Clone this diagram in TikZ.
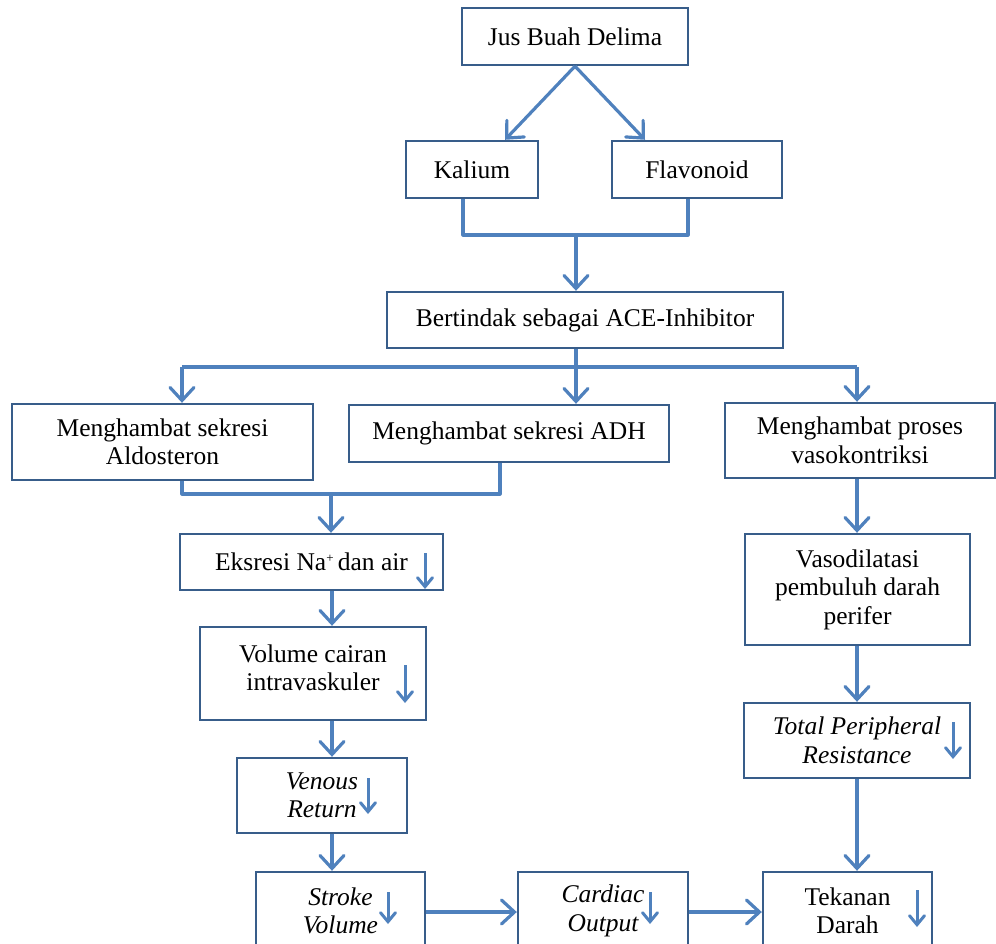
\documentclass[tikz,border=0pt]{standalone}
\usepackage{fontspec}
\setmainfont{Liberation Serif}
\usetikzlibrary{arrows.meta,calc}
\definecolor{boxcol}{RGB}{56,93,138}
\definecolor{arrcol}{RGB}{79,129,189}
\tikzset{
  flowbox/.style={draw=boxcol, line width=2.4pt, inner sep=0pt, align=center,
    font=\fontsize{25.5}{28.5}\selectfont},
  conn/.style={draw=arrcol, line width=3.2pt, line join=round},
  arr/.style={conn, -{Straight Barb[length=13pt,width=24pt,line cap=round]}},
  downtick/.style={draw=arrcol, line width=3pt, -{Straight Barb[length=9pt,width=15pt,line cap=round]}}
}
\begin{document}
\begin{tikzpicture}[x=1pt,y=-1pt]
\useasboundingbox (0,0) rectangle (996,944);
\clip (0,0) rectangle (996,944);
\fill[white] (0,0) rectangle (996,944);

% boxes
\node[flowbox, minimum width=226pt, minimum height=57pt] (jus) at (575,36.5) {Jus Buah Delima};
\node[flowbox, minimum width=132pt, minimum height=57pt] (kal) at (472,169.5) {Kalium};
\node[flowbox, minimum width=170pt, minimum height=57pt] (flav) at (697,169.5) {Flavonoid};
\node[flowbox, minimum width=396pt, minimum height=56pt] (bert) at (585,320) {Bertindak sebagai ACE-Inhibitor};
\node[flowbox, minimum width=301pt, minimum height=76pt] (aldo) at (162.5,442) {Menghambat sekresi\\Aldosteron};
\node[flowbox, minimum width=320pt, minimum height=57pt] (adh) at (509,433.5) {Menghambat sekresi ADH};
\node[flowbox, minimum width=270pt, minimum height=75pt] (vaso) at (860,440.5) {Menghambat proses\\vasokontriksi};
\node[flowbox, minimum width=263pt, minimum height=56pt] (eks) at (311.5,562) {Eksresi Na\raisebox{8pt}{\fontsize{13}{13}\selectfont+}\,dan air};
\node[flowbox, minimum width=226pt, minimum height=93pt] (vol) at (313,673.5) {Volume cairan\\intravaskuler\\[-17pt]};
\node[flowbox, minimum width=170pt, minimum height=75pt] (ven) at (322,795.5) {\itshape Venous\\\itshape Return};
\node[flowbox, minimum width=169pt, minimum height=78pt] (sv) at (340.5,911) {\itshape Stroke\\\itshape Volume};
\node[flowbox, minimum width=170pt, minimum height=78pt] (co) at (603,911) {\itshape Cardiac\\\itshape Output};
\node[flowbox, minimum width=169pt, minimum height=78pt] (td) at (847.5,911) {Tekanan\\Darah};
\node[flowbox, minimum width=225pt, minimum height=111pt] (vd) at (857.5,589.5) {Vasodilatasi\\pembuluh darah\\perifer};
\node[flowbox, minimum width=226pt, minimum height=75pt] (tpr) at (857,740.5) {\itshape Total Peripheral\\\itshape Resistance};

% top fan-out
\draw[arr] (jus.south) -- ([xshift=33pt]kal.north);
\draw[arr] (jus.south) -- ([xshift=-52pt]flav.north);

% merge Kalium + Flavonoid
\coordinate (m1) at (576,235);
\draw[conn] ([xshift=-9pt]kal.south) |- (m1) -| ([xshift=-9pt]flav.south);
\draw[arr] (m1) -- ([xshift=-9pt]bert.north);

% split from ACE-Inhibitor
\coordinate (s1) at (576,367);
\coordinate (sL) at (182,367);
\coordinate (sR) at (857,367);
\draw[conn] ([xshift=-9pt]bert.south) -- (s1);
\draw[conn] (sL) -- (sR);
\draw[arr] (sL) -- ([xshift=19.5pt]aldo.north);
\draw[arr] (s1) -- ([xshift=67pt]adh.north);
\draw[arr] (sR) -- ([xshift=-3pt]vaso.north);

% merge Aldosteron + ADH
\coordinate (m2) at (331,494);
\draw[conn] ([xshift=19.5pt]aldo.south) |- (m2) -| ([xshift=-9pt]adh.south);
\draw[arr] (m2) -- ([xshift=19.5pt]eks.north);

% left chain
\draw[arr] ([xshift=20.5pt]eks.south) -- ([xshift=19pt]vol.north);
\draw[arr] ([xshift=19pt]vol.south) -- ([xshift=10pt]ven.north);
\draw[arr] ([xshift=10pt]ven.south) -- ([xshift=-8.5pt]sv.north);
\draw[arr] ([yshift=-1pt]sv.east) -- ([yshift=-1pt]co.west);
\draw[arr] ([yshift=-1pt]co.east) -- ([yshift=-1pt]td.west);

% right chain
\draw[arr] ([xshift=-3pt]vaso.south) -- ([xshift=-0.5pt]vd.north);
\draw[arr] ([xshift=-0.5pt]vd.south) -- (tpr.north);
\draw[arr] (tpr.south) -- ([xshift=9.5pt]td.north);

% small "decrease" arrows
\draw[downtick] (425,553) -- (425,589);
\draw[downtick] (405,665) -- (405,703);
\draw[downtick] (368,778) -- (368,814);
\draw[downtick] (388,892) -- (388,924);
\draw[downtick] (650,892) -- (650,924);
\draw[downtick] (917,890) -- (917,927);
\draw[downtick] (953,722) -- (953,759);
\end{tikzpicture}
\end{document}
